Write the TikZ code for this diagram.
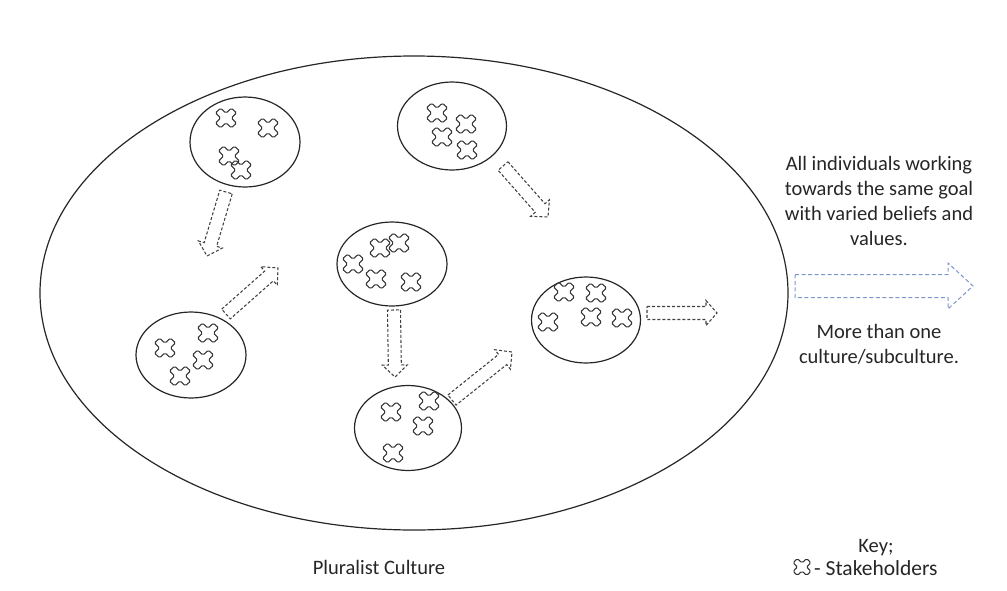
\documentclass[tikz,border=0pt]{standalone}
\usepackage{fontspec}
\setmainfont{Carlito}
\usetikzlibrary{calc,shapes.geometric}

% block arrow outline: style, tail, tip, shaft half-width, head half-width, head length
\newcommand\blockarrow[6]{%
  \coordinate (bh) at ($(#3)!#6!(#2)$);
  \draw[#1] ($(#2)!#4!90:(#3)$) -- ($(bh)!#4!90:(#3)$) -- ($(bh)!#5!90:(#3)$) -- (#3)
    -- ($(bh)!#5!-90:(#3)$) -- ($(bh)!#4!-90:(#3)$) -- ($(#2)!#4!-90:(#3)$) -- cycle;}

\begin{document}
\begin{tikzpicture}[x=1pt,y=-1pt,
  ring/.style={draw=black!85, line width=1.2pt, ellipse, inner sep=0pt},
  stake/.style={draw=black!80, line width=1.05pt, rounded corners=1.5pt},
  flow/.style={draw=black!75, line width=1.05pt, dash pattern=on 3pt off 2pt},
  keyflow/.style={draw={rgb,255:red,125;green,150;blue,200}, line width=1pt, dash pattern=on 4pt off 2.5pt},
  lbl/.style={text=black!85, font=\fontsize{20.5}{25}\selectfont, align=center, inner sep=0pt},
  pics/stk/.style={code={%
    \draw[stake, xscale=1.08, rotate=45] (-3.4,-10.5) -- (3.4,-10.5) -- (3.4,-3.4) -- (10.5,-3.4) -- (10.5,3.4)
      -- (3.4,3.4) -- (3.4,10.5) -- (-3.4,10.5) -- (-3.4,3.4) -- (-10.5,3.4) -- (-10.5,-3.4)
      -- (-3.4,-3.4) -- cycle;}}]
\useasboundingbox (0,0) rectangle (1007,590);

% the whole organisation
\node[ring, minimum width=748pt, minimum height=474pt] (world) at (414,293) {};

% subcultures
\node[ring, minimum width=110pt, minimum height=90pt] (g1) at (245,142) {};
\node[ring, minimum width=109pt, minimum height=88pt] (g2) at (452,126) {};
\node[ring, minimum width=110pt, minimum height=84pt] (g3) at (392,264) {};
\node[ring, minimum width=110pt, minimum height=86pt] (g4) at (191,355) {};
\node[ring, minimum width=109pt, minimum height=86pt] (g5) at (586,320) {};
\node[ring, minimum width=107pt, minimum height=85pt] (g6) at (408,428) {};

% stakeholders
\foreach \p in {(226,118),(268,128),(229,156),(241,170),
                (437,113),(466,124),(442,137),(467,150),
                (380,248),(399,243),(353,264),(376,279),(411,282),
                (208,333),(165,348),(203,360),(180,376),
                (564,292),(596,293),(548,322),(591,317),(622,318),
                (391,412),(429,401),(423,426),(393,453)}
  \pic at \p {stk};

% flows between subcultures
\coordinate (a0) at (226,192); \coordinate (a1) at (207,256);
\coordinate (b0) at (226,314); \coordinate (b1) at (278,268);
\coordinate (c0) at (394,310); \coordinate (c1) at (395,377);
\coordinate (d0) at (452,400); \coordinate (d1) at (512,352);
\coordinate (e0) at (503,166); \coordinate (e1) at (548,217);
\coordinate (f0) at (647,313); \coordinate (f1) at (717,313);
\blockarrow{flow}{a0}{a1}{6.5pt}{12.5pt}{12pt}
\blockarrow{flow}{b0}{b1}{6.5pt}{12.5pt}{12pt}
\blockarrow{flow}{c0}{c1}{6.5pt}{12.5pt}{12pt}
\blockarrow{flow}{d0}{d1}{6.5pt}{12.5pt}{12pt}
\blockarrow{flow}{e0}{e1}{6.5pt}{12.5pt}{12pt}
\blockarrow{flow}{f0}{f1}{6.5pt}{12.5pt}{11pt}

% legend arrow
\coordinate (k0) at (795,286); \coordinate (k1) at (973,286);
\blockarrow{keyflow}{k0}{k1}{11.5pt}{23pt}{25pt}

% texts
\node[lbl] (goal) at (879,201) {All individuals working\\towards the same goal\\with varied beliefs and\\values.};
\node[lbl] (more) at (879,344) {More than one\\culture/subculture.};
\node[lbl] (title) at (379,567) {Pluralist Culture};
\node[lbl] (key) at (876,548) {Key;};
\node[lbl, anchor=west, font=\fontsize{21.5}{25}\selectfont] (keytxt) at (814,568) {- Stakeholders};
\pic[scale=0.85] at (802,567) {stk};
\end{tikzpicture}
\end{document}
